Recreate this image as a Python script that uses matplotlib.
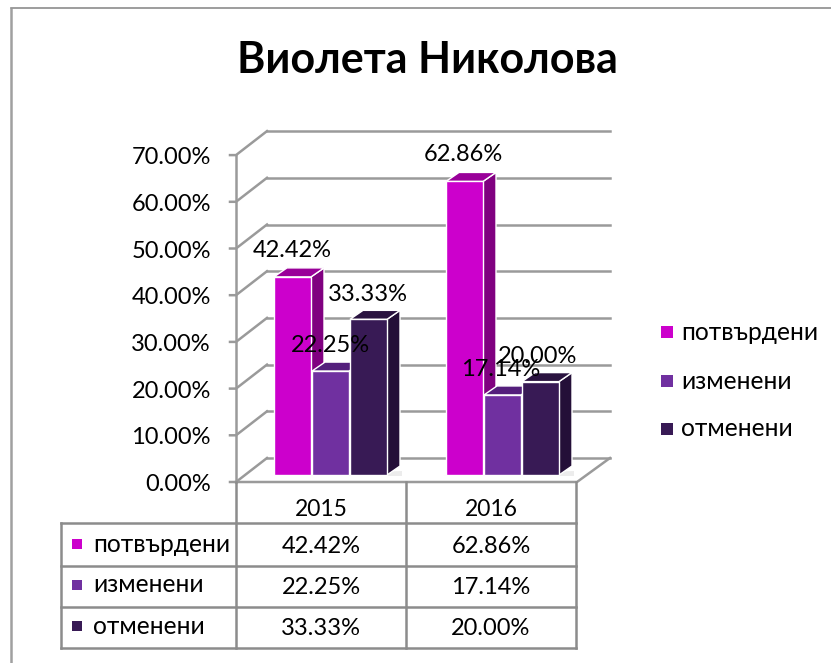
import matplotlib
matplotlib.use("Agg")
import matplotlib.pyplot as plt
from matplotlib.patches import Polygon, Rectangle

plt.rcParams['font.family'] = ['Lato', 'Open Sans', 'DejaVu Sans']

title = "Виолета Николова"
years = ["2015", "2016"]
series = ["потвърдени", "изменени", "отменени"]
potvardeni = [42.42, 62.86]
izmeneni = [22.25, 17.14]
otmeneni = [33.33, 20.00]
values = [potvardeni, izmeneni, otmeneni]
yticks = [0, 10, 20, 30, 40, 50, 60, 70]

front = ["#CC00CC", "#7030A0", "#381A55"]
top = ["#990099", "#541F7C", "#2A1340"]
side = ["#800080", "#44196A", "#240F38"]
GRID = "#9a9a9a"
FS_NUM = 17
FS_CYR = 17.7
NUM_SHIFT = 2.5   # digit labels sit a little low relative to their box centre

W, H = 831, 663
K = 4.67          # pixels per percentage point
Y_FLOOR = 482     # pixel row of 0% on the front plane
Y_BAR = 475       # pixel row of bar bases

fig = plt.figure(figsize=(W / 100, H / 100), dpi=100)
ax = fig.add_axes([0, 0, 1, 1])
ax.set_xlim(0, W)
ax.set_ylim(-(H - Y_FLOOR) / K, Y_FLOOR / K)   # y data is percent on the front plane
ax.axis("off")

def py(p):
    """pixel row -> y data"""
    return (Y_FLOOR - p) / K

def dy(p):
    """upward pixel offset -> y data"""
    return p / K

# picture frame
ax.plot([11, 11], [py(663), py(8)], color="#a0a0a0", lw=1.8, zorder=1, solid_capstyle="butt")
ax.plot([11, 831], [py(8), py(8)], color="#8c8c8c", lw=1.2, zorder=1)

# 3-D wall
FX, BX, RX = 236, 267, 610
DX, DY = 31, 24
ax.plot([FX, FX], [0, 70], color=GRID, lw=1.8, zorder=2)
for v in yticks:
    ax.plot([FX - 6, FX, BX], [v, v, v + dy(DY)], color=GRID, lw=1.8, zorder=2)
    ax.plot([BX, RX], [v + dy(DY), v + dy(DY)], color=GRID, lw=1.8, zorder=2)
    ax.text(FX - 25, v - dy(NUM_SHIFT), f"{v:.2f}%", ha="right", va="center",
            fontsize=FS_NUM, color="black", zorder=6)
# floor front and right edge
ax.plot([FX, 577, RX], [0, 0, dy(DY)], color=GRID, lw=1.8, zorder=2)

# bars
BASE = py(Y_BAR)
BW, PITCH = 37, 38
GROUP0, GROUP_STEP = 274, 172
BDX, BDY = 13, 9
for g in range(len(years)):
    x0 = GROUP0 + g * GROUP_STEP
    ax.add_patch(Polygon([(x0 - 3, BASE - dy(1)), (x0 + 3 * PITCH + BDX + 1, BASE - dy(1)),
                          (x0 + 3 * PITCH + BDX + 1, BASE + dy(4))],
                         closed=True, fc="#ececec", ec="none", zorder=2.5))
    for s, vals in enumerate(values):
        x = x0 + s * PITCH
        v = BASE + vals[g]
        z = 3 + s * 0.1
        ax.add_patch(Polygon([(x + BW, BASE), (x + BW + BDX, BASE + dy(BDY)),
                              (x + BW + BDX, v + dy(BDY)), (x + BW, v)],
                             closed=True, fc=side[s], ec="white", lw=1, zorder=z))
        ax.add_patch(Polygon([(x, v), (x + BW, v), (x + BW + BDX, v + dy(BDY)), (x + BDX, v + dy(BDY))],
                             closed=True, fc=top[s], ec="white", lw=1, zorder=z))
        ax.add_patch(Rectangle((x, BASE), BW, vals[g], fc=front[s], ec="white", lw=1, zorder=z))

# data labels
label_pos = [[(292, 249), (463, 153)], [(330, 344), (501, 368)], [(368, 293), (538, 355)]]
for s, vals in enumerate(values):
    for g, val in enumerate(vals):
        lx, ly = label_pos[s][g]
        ax.text(lx, py(ly + NUM_SHIFT - 1), f"{val:.2f}%", ha="center", va="center",
                fontsize=FS_NUM, color="black", zorder=7)

# title
ax.text(427, py(60), title, ha="center", va="center", fontsize=31, fontweight="bold", color="black")

# legend
for s, (name, ly) in enumerate(zip(series, [332, 381, 429])):
    ax.add_patch(Rectangle((661, py(ly + 6)), 12, dy(12), fc=front[s], ec="none"))
    ax.text(681, py(ly), name, ha="left", va="center", fontsize=FS_CYR, color="black")

# data table
TL, C0, C1, C2 = 61, 236, 406, 576
R0, R1, R2, R3, R4 = 482, 523, 566, 607, 648
TC = "#8c8c8c"
for xc, a, b in [(TL, R1, R4), (C0, R0, R4), (C1, R0, R4), (C2, R0, R4)]:
    ax.plot([xc, xc], [py(a), py(b)], color=TC, lw=1.8, zorder=2, solid_capstyle="projecting")
for yr in [R1, R2, R3, R4]:
    ax.plot([TL, C2], [py(yr), py(yr)], color=TC, lw=1.8, zorder=2)
for g, yr in enumerate(years):
    cx = (C0 + C1) / 2 if g == 0 else (C1 + C2) / 2
    ax.text(cx, py(510), yr, ha="center", va="center", fontsize=16.5, color="black")
rows = [544, 585, 626]
for s, (name, ry) in enumerate(zip(series, rows)):
    ax.add_patch(Rectangle((72, py(ry + 5)), 10, dy(10), fc=front[s], ec="none"))
    ax.text(93, py(ry), name, ha="left", va="center", fontsize=FS_CYR, color="black")
    for g, cx in enumerate([(C0 + C1) / 2, (C1 + C2) / 2]):
        ax.text(cx, py(ry + NUM_SHIFT), f"{values[s][g]:.2f}%", ha="center", va="center",
                fontsize=FS_NUM, color="black")

fig.savefig("out.png", dpi=100, facecolor="white")
